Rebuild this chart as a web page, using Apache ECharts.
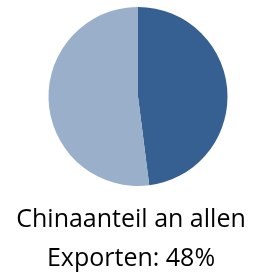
<!DOCTYPE html>
<html><head><meta charset="utf-8">
<script src="https://cdn.jsdelivr.net/npm/echarts@6/dist/echarts.min.js"></script>
<style>html,body{margin:0;padding:0;background:#fff}#c{width:255px;height:276px}</style>
</head><body><div id="c"></div>
<script>
var categories = ['China', 'Rest'];
var values = [48, 52];
var colors = ['#366092', '#9AAFC9'];
var titleLines = ['Chinaanteil an allen', 'Exporten: 48%'];

var chart = echarts.init(document.getElementById('c'), null, {renderer: 'canvas'});
chart.setOption({
  animation: false,
  title: {
    text: titleLines.join('\n'),
    left: 131, top: 200, textAlign: 'center', padding: 0,
    textStyle: {fontFamily: 'Open Sans', fontWeight: 'normal', fontSize: 25, lineHeight: 39.5, color: '#000'}
  },
  series: [{
    type: 'pie',
    center: [138, 96.5],
    radius: [0, 89.5],
    startAngle: 90,
    clockwise: true,
    label: {show: false},
    labelLine: {show: false},
    emphasis: {disabled: true},
    itemStyle: {borderWidth: 0},
    data: categories.map(function (c, i) { return {name: c, value: values[i], itemStyle: {color: colors[i]}}; })
  }]
});
</script></body></html>
